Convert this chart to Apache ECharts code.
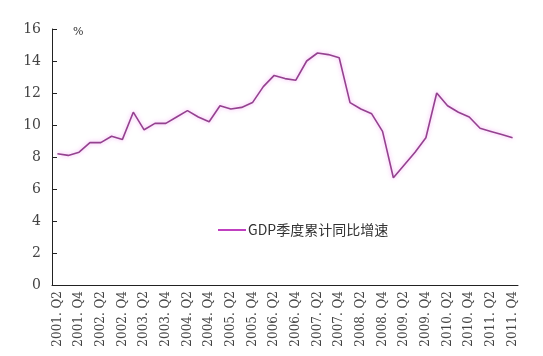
<!DOCTYPE html>
<html><head><meta charset="utf-8">
<script src="https://cdn.jsdelivr.net/npm/echarts@6/dist/echarts.min.js"></script>
<style>html,body{margin:0;padding:0;background:#fff}#c{width:543px;height:356px}</style>
</head><body><div id="c"></div>
<script>
var categories = ["2001.Q2","2001.Q3","2001.Q4","2002.Q1","2002.Q2","2002.Q3","2002.Q4","2003.Q1","2003.Q2","2003.Q3","2003.Q4","2004.Q1","2004.Q2","2004.Q3","2004.Q4","2005.Q1","2005.Q2","2005.Q3","2005.Q4","2006.Q1","2006.Q2","2006.Q3","2006.Q4","2007.Q1","2007.Q2","2007.Q3","2007.Q4","2008.Q1","2008.Q2","2008.Q3","2008.Q4","2009.Q1","2009.Q2","2009.Q3","2009.Q4","2010.Q1","2010.Q2","2010.Q3","2010.Q4","2011.Q1","2011.Q2","2011.Q3","2011.Q4"];
var gdpGrowth = [8.2,8.1,8.3,8.9,8.9,9.3,9.1,10.8,9.7,10.1,10.1,10.5,10.9,10.5,10.2,11.2,11.0,11.1,11.4,12.4,13.1,12.9,12.8,14.0,14.5,14.4,14.2,11.4,11.0,10.7,9.6,6.7,7.5,8.3,9.2,12.0,11.2,10.8,10.5,9.8,9.6,9.4,9.2];
var seriesName = "GDP季度累计同比增速";
var unitLabel = "%";

var font = "'DejaVu Serif','Liberation Serif','Noto Sans CJK SC',serif";
var chart = echarts.init(document.getElementById('c'));
chart.setOption({
  animation: false,
  backgroundColor: '#fff',
  grid: {left: 52, right: 25, top: 29, bottom: 71, containLabel: false},
  legend: {
    left: 213, top: 218,
    icon: 'rect', itemWidth: 28, itemHeight: 2, itemGap: 4,
    textStyle: {fontFamily: "'Noto Sans CJK SC',sans-serif", fontSize: 14, color: '#333', padding: [0,0,0,-3]},
    data: [seriesName]
  },
  graphic: [{type: 'text', left: 73, top: 27, style: {text: unitLabel, font: '11px ' + font, fill: '#333'}}],
  xAxis: {
    type: 'category', data: categories, boundaryGap: true,
    axisLine: {lineStyle: {color: '#222', width: 1}},
    axisTick: {inside: true, length: 5, interval: 0, lineStyle: {color: '#222'}},
    axisLabel: {rotate: 90, interval: 1, fontFamily: font, fontSize: 12, color: '#444', margin: 6,
      formatter: function (v) { return v.replace('.', '. '); }}
  },
  yAxis: {
    type: 'value', min: 0, max: 16, interval: 2,
    axisLine: {show: true, lineStyle: {color: '#222', width: 1}},
    axisTick: {show: true, inside: true, length: 5, lineStyle: {color: '#222'}},
    splitLine: {show: false},
    axisLabel: {fontFamily: font, fontSize: 14, color: '#444', margin: 11}
  },
  series: [{
    name: seriesName, type: 'line', data: gdpGrowth,
    showSymbol: false, symbol: 'none',
    lineStyle: {color: '#94418f', width: 1.6, shadowColor: 'rgba(240,150,240,0.8)', shadowBlur: 4},
    itemStyle: {color: '#c040c0'}
  }]
});
</script></body></html>
